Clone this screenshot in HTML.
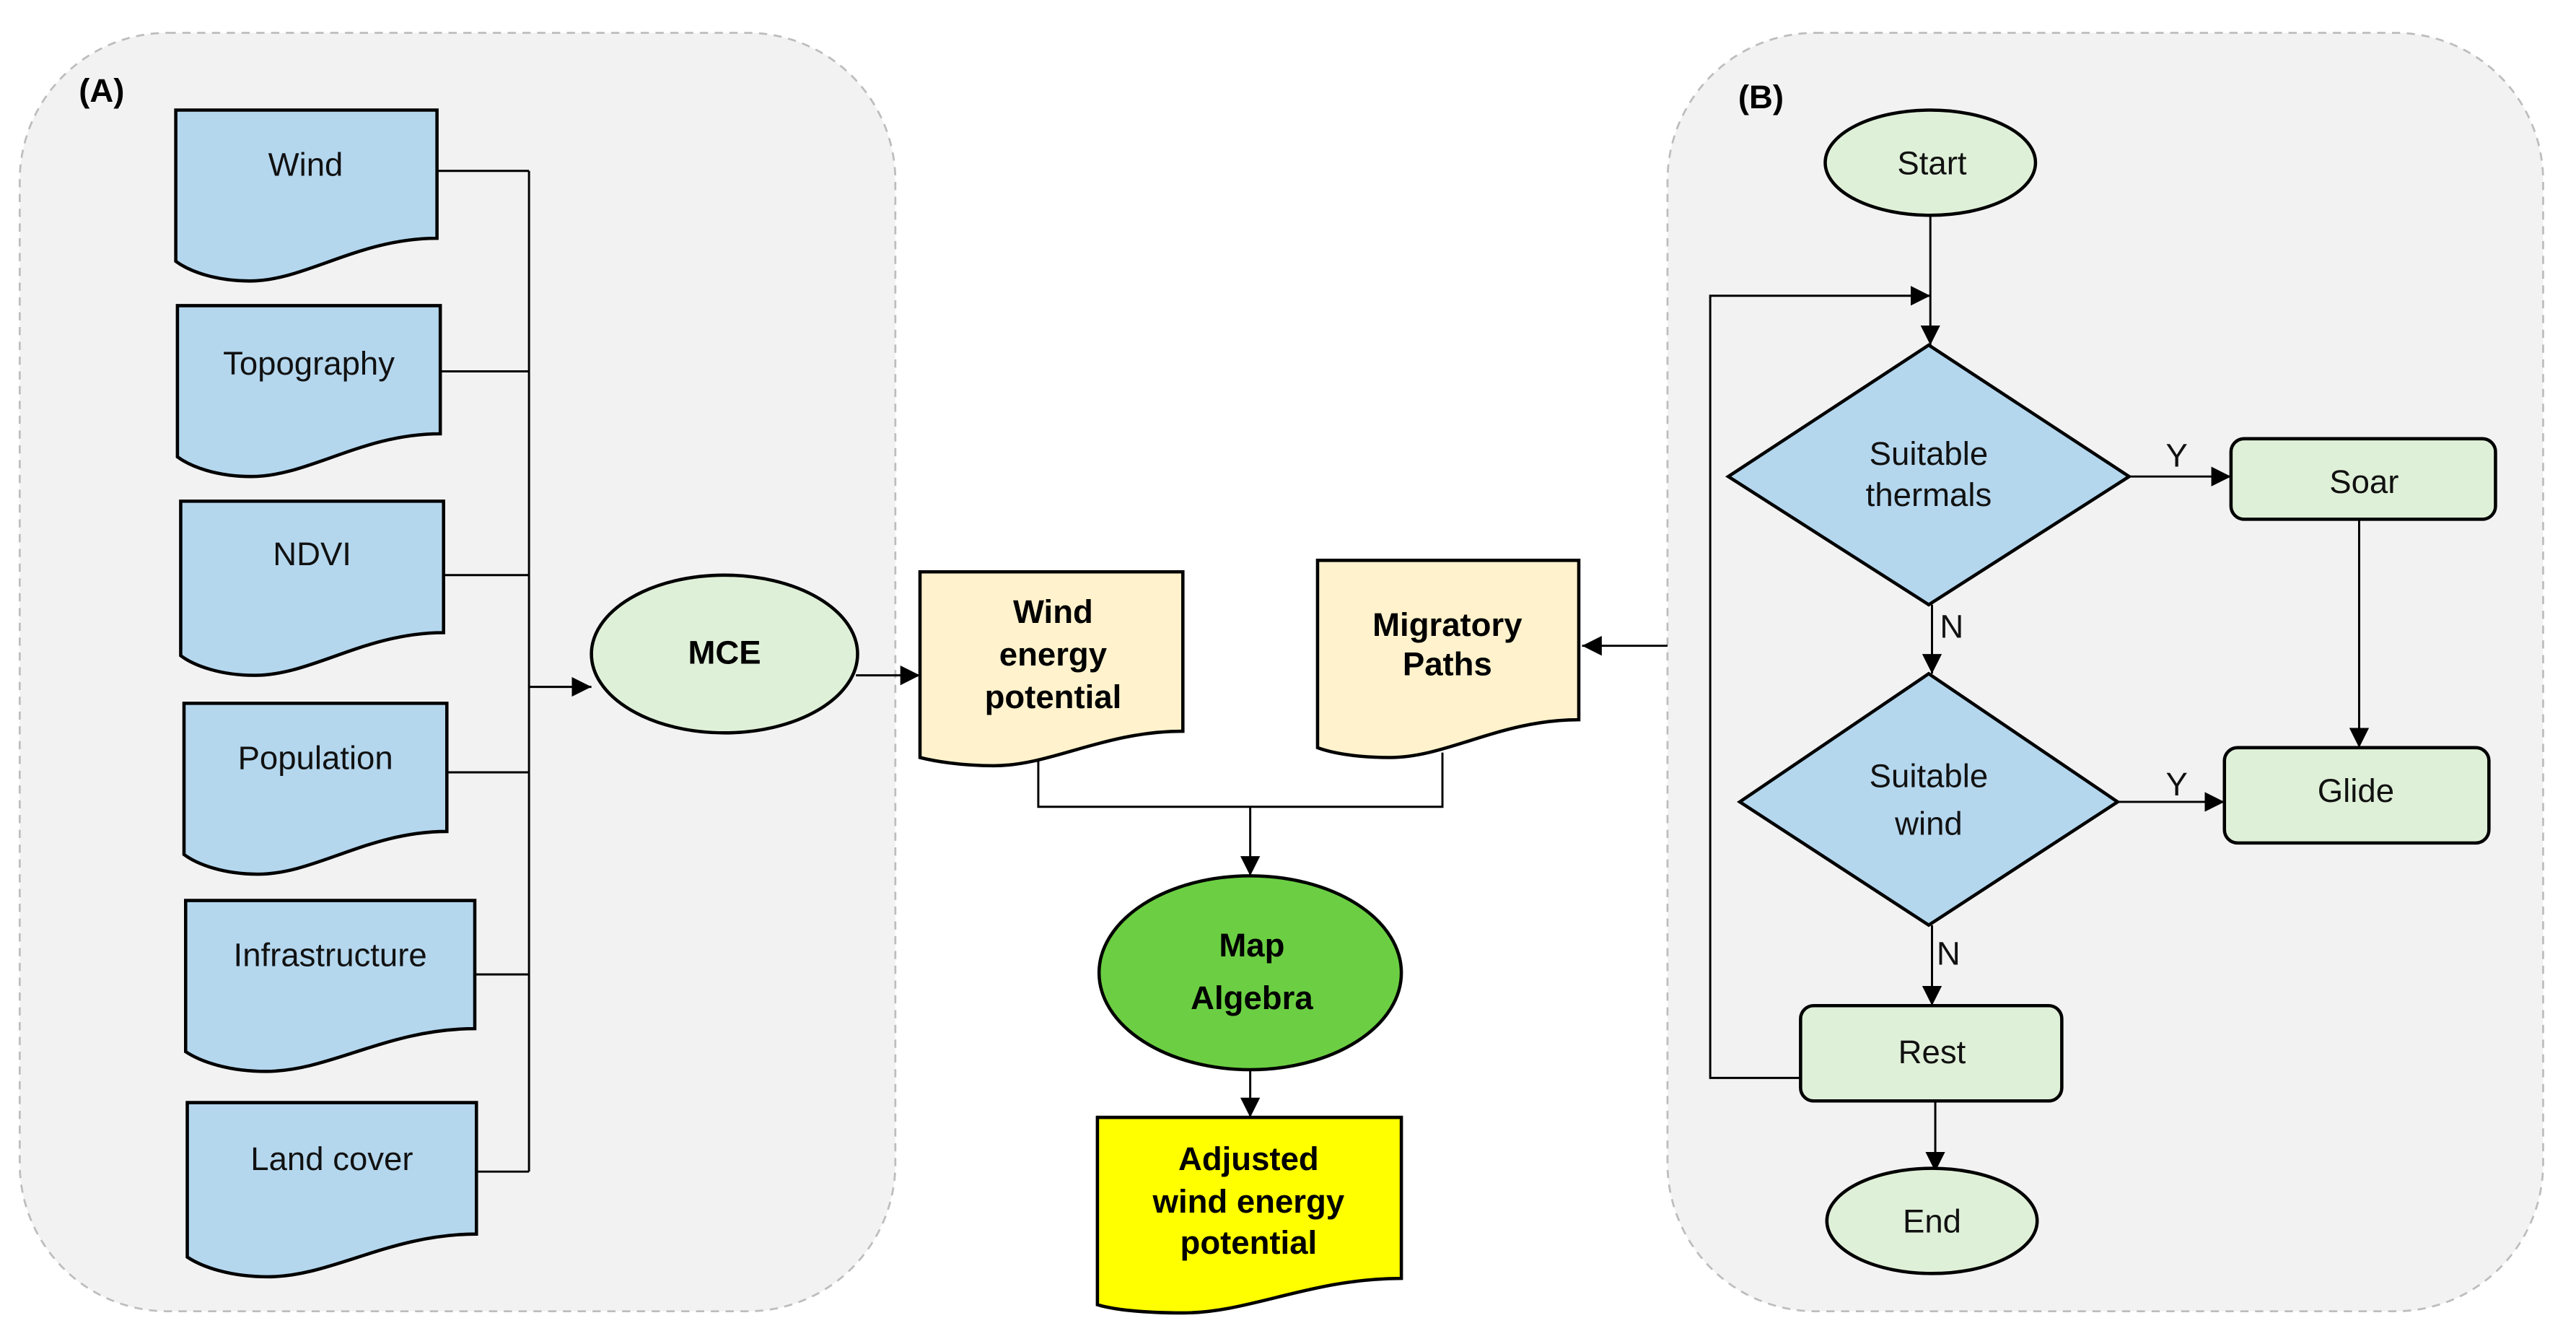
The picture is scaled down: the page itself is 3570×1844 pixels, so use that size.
<!DOCTYPE html>
<html><head><meta charset="utf-8"><style>html,body{margin:0;padding:0;background:#fff}svg{display:block}</style></head>
<body>
<svg width="3570" height="1844" viewBox="0 0 1568 810" preserveAspectRatio="none" xmlns="http://www.w3.org/2000/svg" font-family="Liberation Sans, Arial, sans-serif">
<defs>
<marker id="ar" viewBox="0 0 10 10" refX="10" refY="5" markerWidth="7" markerHeight="7" orient="auto" markerUnits="userSpaceOnUse"><path d="M0,0 L10,5 L0,10 Z" fill="#000"/></marker>
<marker id="arB" viewBox="0 0 10 10" refX="10" refY="5" markerWidth="12" markerHeight="12" orient="auto" markerUnits="userSpaceOnUse"><path d="M0,0 L10,5 L0,10 Z" fill="#000"/></marker>
</defs>
<rect x="12" y="20" width="533" height="778" rx="90" fill="#f2f2f2" stroke="#bdbdbd" stroke-width="1.2" stroke-dasharray="5,4"/>
<rect x="1015" y="20" width="533" height="778" rx="90" fill="#f2f2f2" stroke="#bdbdbd" stroke-width="1.2" stroke-dasharray="5,4"/>
<text x="48" y="62" font-size="20" font-weight="bold">(A)</text>
<text x="1058" y="66" font-size="20" font-weight="bold">(B)</text>

<g fill="#b4d7ee" stroke="#000" stroke-width="2">
<path d="M107,67 H266 V145 C218,145 186,171 152,171 C131,171 115,165 107,159 Z"/>
<path d="M108,186 H268 V264 C220,264 188,290 153,290 C132,290 116,284 108,278 Z"/>
<path d="M110,305 H270 V385 C222,385 190,411 155,411 C134,411 118,405 110,399 Z"/>
<path d="M112,428 H272 V506 C224,506 192,532 157,532 C136,532 120,526 112,520 Z"/>
<path d="M113,548 H289 V626 C236,626 201,652 162,652 C139,652 122,646 113,640 Z"/>
<path d="M114,671 H290 V751 C237,751 202,777 163,777 C140,777 123,771 114,765 Z"/>
</g>
<g font-size="20" text-anchor="middle" fill="#111">
<text x="186" y="107">Wind</text>
<text x="188" y="228">Topography</text>
<text x="190" y="344">NDVI</text>
<text x="192" y="468">Population</text>
<text x="201" y="588">Infrastructure</text>
<text x="202" y="712">Land cover</text>
</g>
<g stroke="#000" stroke-width="1.3" fill="none">
<path d="M266,104 H322 M268,226 H322 M270,350 H322 M272,470 H322 M289,593 H322 M290,713 H322 M322,104 V713"/>
<path d="M322,418 H360" marker-end="url(#arB)"/>
<path d="M521,411 H560" marker-end="url(#arB)"/>
<path d="M1015,393 H963" marker-end="url(#arB)"/>
<path d="M632,463 V491 H878 V458"/>
<path d="M761,491 V533" marker-end="url(#arB)"/>
<path d="M761,651 V680" marker-end="url(#arB)"/>
</g>
<ellipse cx="441" cy="398" rx="81" ry="48" fill="#dff0d8" stroke="#000" stroke-width="2"/>
<text x="441" y="404" font-size="20" font-weight="bold" text-anchor="middle">MCE</text>

<path d="M560,348 H720 V445 C672,445 640,466 605,466 C584,466 568,463 560,461 Z" fill="#fff2cc" stroke="#000" stroke-width="2"/>
<path d="M802,341 H961 V438 C913,438 881,461 846,461 C825,461 810,458 802,455 Z" fill="#fff2cc" stroke="#000" stroke-width="2"/>
<path d="M668,680 H853 V778 C798,778 761,799 720,799 C696,799 678,797 668,794 Z" fill="#ffff00" stroke="#000" stroke-width="2"/>
<ellipse cx="761" cy="592" rx="92" ry="59" fill="#6ccf43" stroke="#000" stroke-width="2"/>
<g font-size="20" font-weight="bold" text-anchor="middle">
<text x="641" y="379">Wind</text>
<text x="641" y="405">energy</text>
<text x="641" y="431">potential</text>
<text x="881" y="387">Migratory</text>
<text x="881" y="411">Paths</text>
<text x="762" y="582">Map</text>
<text x="762" y="614">Algebra</text>
<text x="760" y="712">Adjusted</text>
<text x="760" y="738">wind energy</text>
<text x="760" y="763">potential</text>
</g>

<g stroke="#000" stroke-width="1.3" fill="none">
<path d="M1175,131 V210" marker-end="url(#arB)"/>
<path d="M1096,656 H1041 V180 H1175" marker-end="url(#arB)"/>
<path d="M1296,290 H1358" marker-end="url(#arB)"/>
<path d="M1436,316 V455" marker-end="url(#arB)"/>
<path d="M1176,368 V410" marker-end="url(#arB)"/>
<path d="M1289,488 H1354" marker-end="url(#arB)"/>
<path d="M1176,563 V612" marker-end="url(#arB)"/>
<path d="M1178,670 V713" marker-end="url(#arB)"/>
</g>
<g stroke="#000" stroke-width="2">
<ellipse cx="1175" cy="99" rx="64" ry="32" fill="#dff0d8"/>
<polygon points="1174,210 1296,290 1174,368 1052,290" fill="#b4d7ee"/>
<polygon points="1174,410 1289,488 1174,563 1059,488" fill="#b4d7ee"/>
<rect x="1358" y="267" width="161" height="49" rx="8" fill="#dff0d8"/>
<rect x="1354" y="455" width="161" height="58" rx="8" fill="#dff0d8"/>
<rect x="1096" y="612" width="159" height="58" rx="8" fill="#dff0d8"/>
<ellipse cx="1176" cy="743" rx="64" ry="32" fill="#dff0d8"/>
</g>
<g font-size="20" text-anchor="middle" fill="#111">
<text x="1176" y="106">Start</text>
<text x="1174" y="283">Suitable</text>
<text x="1174" y="308">thermals</text>
<text x="1174" y="479">Suitable</text>
<text x="1174" y="508">wind</text>
<text x="1439" y="300">Soar</text>
<text x="1434" y="488">Glide</text>
<text x="1176" y="647">Rest</text>
<text x="1176" y="750">End</text>
<text x="1325" y="284">Y</text>
<text x="1325" y="484">Y</text>
<text x="1188" y="388">N</text>
<text x="1186" y="587">N</text>
</g>
</svg>
</body></html>
